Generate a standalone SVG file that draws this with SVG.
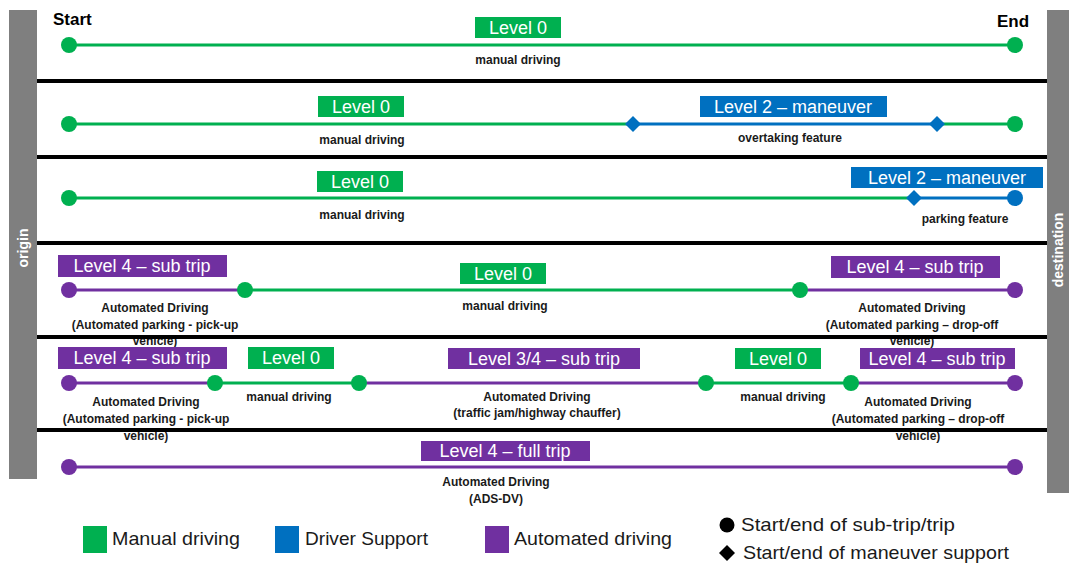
<svg xmlns="http://www.w3.org/2000/svg" width="1069" height="565" viewBox="0 0 1069 565">
<style>
.bar{fill:#7f7f7f}
.sep{stroke:#000;stroke-width:4}
.g{stroke:#00b050;stroke-width:3;fill:none}
.b{stroke:#0070c0;stroke-width:3;fill:none}
.p{stroke:#7030a0;stroke-width:3;fill:none}
.fg{fill:#00b050}
.fb{fill:#0070c0}
.fp{fill:#7030a0}
.lvl{font-family:"Liberation Sans",Arial,sans-serif;font-size:18px;fill:#fff;text-anchor:middle}
.sm{font-family:"Liberation Sans",Arial,sans-serif;font-size:12px;font-weight:bold;fill:#1a1a1a;text-anchor:middle}
.hd{font-family:"Liberation Sans",Arial,sans-serif;font-size:17px;font-weight:bold;fill:#000}
.side{font-family:"Liberation Sans",Arial,sans-serif;font-size:14px;font-weight:bold;fill:#fff;text-anchor:middle}
.leg{font-family:"Liberation Sans",Arial,sans-serif;font-size:19px;fill:#1a1a1a}
</style>
<defs>
<circle id="dot" r="8"/>
<path id="dia" d="M0,-8 L8,0 L0,8 L-8,0 Z"/>
</defs>

<g id="frame">
<rect class="bar" x="9" y="10" width="28" height="469"/>
<rect class="bar" x="1047" y="10" width="22" height="483"/>
<text class="side" transform="translate(28,248) rotate(-90)">origin</text>
<text class="side" transform="translate(1063,250) rotate(-90)">destination</text>
<text class="hd" x="53" y="25">Start</text>
<text class="hd" x="997" y="27">End</text>
</g>

<g id="connectors">
<line class="g" x1="69" y1="45" x2="1015" y2="45"/>
<line class="g" x1="69" y1="124" x2="633" y2="124"/>
<line class="b" x1="633" y1="124" x2="937" y2="124"/>
<line class="g" x1="937" y1="124" x2="1015" y2="124"/>
<line class="g" x1="69" y1="198" x2="914" y2="198"/>
<line class="b" x1="914" y1="198" x2="1015" y2="198"/>
<line class="p" x1="69" y1="290" x2="245" y2="290"/>
<line class="g" x1="245" y1="290" x2="800" y2="290"/>
<line class="p" x1="800" y1="290" x2="1015" y2="290"/>
<line class="p" x1="69" y1="383" x2="215" y2="383"/>
<line class="g" x1="215" y1="383" x2="359" y2="383"/>
<line class="p" x1="359" y1="383" x2="706" y2="383"/>
<line class="g" x1="706" y1="383" x2="851" y2="383"/>
<line class="p" x1="851" y1="383" x2="1015" y2="383"/>
<line class="p" x1="69" y1="467" x2="1015" y2="467"/>
</g>

<g id="points">
<use href="#dot" class="fg" x="69" y="45"/>
<use href="#dot" class="fg" x="1015" y="45"/>
<use href="#dot" class="fg" x="69" y="124"/>
<use href="#dia" class="fb" x="633" y="124"/>
<use href="#dia" class="fb" x="937" y="124"/>
<use href="#dot" class="fg" x="1015" y="124"/>
<use href="#dot" class="fg" x="69" y="198"/>
<use href="#dia" class="fb" x="914" y="198"/>
<use href="#dot" class="fb" x="1015" y="198"/>
<use href="#dot" class="fp" x="69" y="290"/>
<use href="#dot" class="fg" x="245" y="290"/>
<use href="#dot" class="fg" x="800" y="290"/>
<use href="#dot" class="fp" x="1015" y="290"/>
<use href="#dot" class="fp" x="69" y="383"/>
<use href="#dot" class="fg" x="215" y="383"/>
<use href="#dot" class="fg" x="359" y="383"/>
<use href="#dot" class="fg" x="706" y="383"/>
<use href="#dot" class="fg" x="851" y="383"/>
<use href="#dot" class="fp" x="1015" y="383"/>
<use href="#dot" class="fp" x="69" y="467"/>
<use href="#dot" class="fp" x="1015" y="467"/>
</g>

<g id="row1">
<rect class="fg" x="475" y="17" width="86" height="21"/>
<text class="lvl" x="518" y="34">Level 0</text>
<text class="sm" x="518" y="64">manual driving</text>
</g>
<g id="row2">
<rect class="fg" x="318" y="96" width="86" height="21"/>
<text class="lvl" x="361" y="113">Level 0</text>
<text class="sm" x="362" y="144">manual driving</text>
<rect class="fb" x="700" y="96" width="187" height="21"/>
<text class="lvl" x="793" y="113">Level 2 – maneuver</text>
<text class="sm" x="790" y="142">overtaking feature</text>
</g>
<g id="row3">
<rect class="fg" x="317" y="171" width="86" height="21"/>
<text class="lvl" x="360" y="188">Level 0</text>
<text class="sm" x="362" y="219">manual driving</text>
<rect class="fb" x="851" y="167" width="192" height="21"/>
<text class="lvl" x="947" y="184">Level 2 – maneuver</text>
<text class="sm" x="965" y="223">parking feature</text>
</g>
<g id="row4">
<rect class="fp" x="58" y="255" width="169" height="22"/>
<text class="lvl" x="142" y="272">Level 4 – sub trip</text>
<text class="sm" x="155" y="312">Automated Driving</text>
<text class="sm" x="155" y="329">(Automated parking - pick-up</text>
<text class="sm" x="155" y="345">vehicle)</text>
<rect class="fg" x="460" y="263" width="86" height="21"/>
<text class="lvl" x="503" y="280">Level 0</text>
<text class="sm" x="505" y="310">manual driving</text>
<rect class="fp" x="831" y="256" width="169" height="22"/>
<text class="lvl" x="915" y="273">Level 4 – sub trip</text>
<text class="sm" x="912" y="312">Automated Driving</text>
<text class="sm" x="912" y="329">(Automated parking – drop-off</text>
<text class="sm" x="912" y="345">vehicle)</text>
</g>
<g id="row5">
<rect class="fp" x="58" y="347" width="169" height="22"/>
<text class="lvl" x="142" y="364">Level 4 – sub trip</text>
<text class="sm" x="146" y="406">Automated Driving</text>
<text class="sm" x="146" y="423">(Automated parking - pick-up</text>
<text class="sm" x="146" y="440">vehicle)</text>
<rect class="fg" x="248" y="347" width="86" height="22"/>
<text class="lvl" x="291" y="364">Level 0</text>
<text class="sm" x="289" y="401">manual driving</text>
<rect class="fp" x="448" y="348" width="192" height="21"/>
<text class="lvl" x="544" y="365">Level 3/4 – sub trip</text>
<text class="sm" x="537" y="401">Automated Driving</text>
<text class="sm" x="537" y="417">(traffic jam/highway chauffer)</text>
<rect class="fg" x="735" y="348" width="86" height="21"/>
<text class="lvl" x="778" y="365">Level 0</text>
<text class="sm" x="783" y="401">manual driving</text>
<rect class="fp" x="860" y="348" width="155" height="21"/>
<text class="lvl" x="937" y="365">Level 4 – sub trip</text>
<text class="sm" x="918" y="406">Automated Driving</text>
<text class="sm" x="918" y="423">(Automated parking – drop-off</text>
<text class="sm" x="918" y="440">vehicle)</text>
</g>
<g id="row6">
<rect class="fp" x="421" y="441" width="169" height="20"/>
<text class="lvl" x="505" y="457">Level 4 – full trip</text>
<text class="sm" x="496" y="486">Automated Driving</text>
<text class="sm" x="496" y="503">(ADS-DV)</text>
</g>

<g id="separators">
<line class="sep" x1="37" y1="81" x2="1047" y2="81"/>
<line class="sep" x1="37" y1="157" x2="1047" y2="157"/>
<line class="sep" x1="37" y1="243" x2="1047" y2="243"/>
<line class="sep" x1="37" y1="337" x2="1047" y2="337"/>
<line class="sep" x1="37" y1="430" x2="1047" y2="430"/>
</g>

<g id="legend">
<rect class="fg" x="83" y="526" width="24" height="27"/>
<text class="leg" x="112" y="545" textLength="128" lengthAdjust="spacingAndGlyphs">Manual driving</text>
<rect class="fb" x="275" y="526" width="24" height="27"/>
<text class="leg" x="305" y="545" textLength="123" lengthAdjust="spacingAndGlyphs">Driver Support</text>
<rect class="fp" x="485" y="526" width="24" height="27"/>
<text class="leg" x="514" y="545" textLength="158" lengthAdjust="spacingAndGlyphs">Automated driving</text>
<circle cx="727" cy="525" r="7.5" fill="#000"/>
<text class="leg" x="741" y="531" textLength="214" lengthAdjust="spacingAndGlyphs">Start/end of sub-trip/trip</text>
<path d="M727,545 L735,553 L727,561 L719,553 Z" fill="#000"/>
<text class="leg" x="743" y="559" textLength="266" lengthAdjust="spacingAndGlyphs">Start/end of maneuver support</text>
</g>
</svg>
